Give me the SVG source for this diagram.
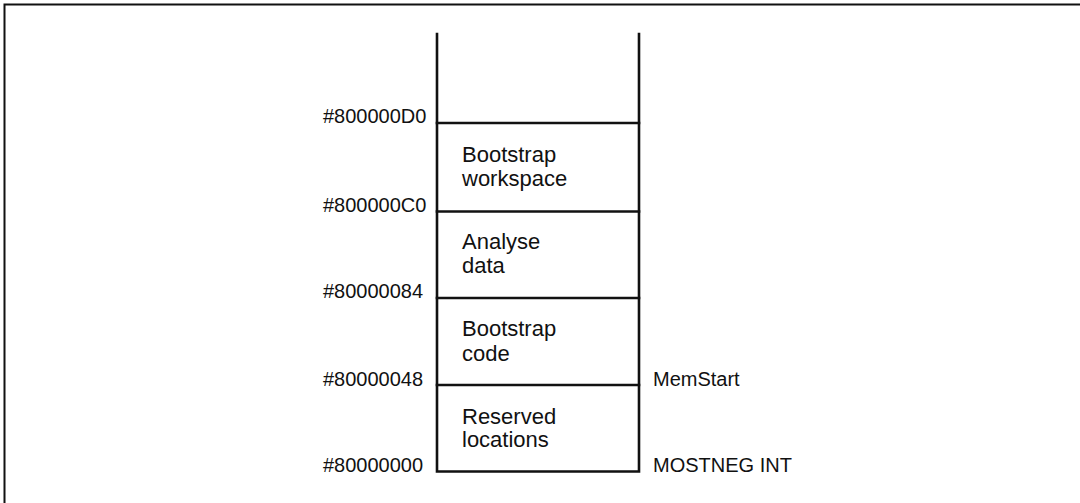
<svg xmlns="http://www.w3.org/2000/svg" width="1080" height="503" viewBox="0 0 1080 503">
<style>
.ln{stroke:#111;stroke-width:2.6;fill:none;stroke-linecap:square}
.fr{stroke:#111;stroke-width:2;fill:none}
.lb{font-family:"Liberation Sans",Arial,sans-serif;font-size:20px;fill:#111}
.tx{font-family:"Liberation Sans",Arial,sans-serif;font-size:22px;fill:#111}
</style>
<rect width="1080" height="503" fill="#fff"/>
<path class="fr" d="M4.5,503 V4.5 H1080"/>
<g id="connectors">
<path class="ln" d="M437,34 V471.5 H639 V34"/>
</g>
<g id="top"><path class="ln" d="M437,123 H639"/><text class="lb" x="323" y="123">#800000D0</text></g>
<g id="bootstrap-workspace"><path class="ln" d="M437,211.5 H639"/><text class="tx" x="462" y="161.5">Bootstrap</text><text class="tx" x="462" y="186">workspace</text></g>
<g id="analyse-data"><path class="ln" d="M437,298 H639"/><text class="tx" x="462" y="248.5">Analyse</text><text class="tx" x="462" y="273">data</text><text class="lb" x="323" y="211.5">#800000C0</text></g>
<g id="bootstrap-code"><path class="ln" d="M437,385 H639"/><text class="tx" x="462" y="336">Bootstrap</text><text class="tx" x="462" y="360.5">code</text><text class="lb" x="323" y="298">#80000084</text></g>
<g id="reserved"><text class="tx" x="462" y="423.5">Reserved</text><text class="tx" x="462" y="447">locations</text><text class="lb" x="323" y="386">#80000048</text><text class="lb" x="653" y="386">MemStart</text><text class="lb" x="323" y="472">#80000000</text><text class="lb" x="653" y="472">MOSTNEG INT</text></g>
</svg>
